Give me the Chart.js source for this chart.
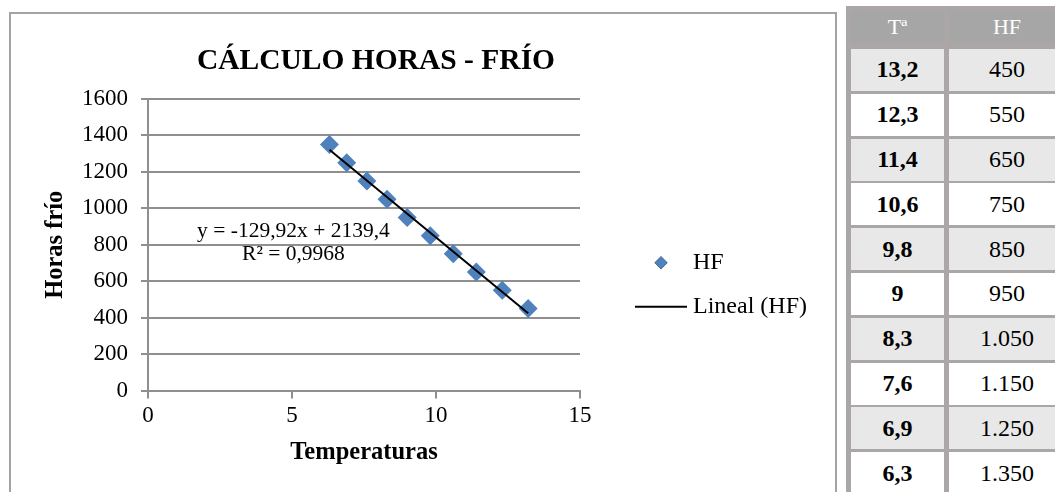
<!DOCTYPE html>
<html lang="es">
<head>
<meta charset="utf-8">
<title>Cálculo horas - frío</title>
<script src="https://cdn.jsdelivr.net/npm/chart.js@4.4.1/dist/chart.umd.min.js"></script>
<style>
  html, body { margin: 0; padding: 0; width: 1055px; height: 492px; overflow: hidden; background: #fff; }
  #frame { position: absolute; left: 9px; top: 12px; width: 824px; height: 600px;
           border: 2px solid #a3a3a3; border-bottom: none; }
  #chartBox { position: absolute; left: 0; top: 0; width: 840px; height: 492px; }
  #dataTable { position: absolute; left: 846px; top: 6px; width: 226px; height: 600px;
               background: #aba7a7; padding: 5px 0 0 5px; box-sizing: border-box;
               display: grid; grid-template-columns: 93px 116px; column-gap: 5px;
               row-gap: 2.8px; grid-template-rows: auto; grid-auto-rows: 42px;
               align-content: start;
               font-family: "Liberation Serif", "Times New Roman", serif; color: #000; }
  #dataTable .cell { display: flex; align-items: center; justify-content: center; font-size: 24px; }
  #dataTable .head { height: 32px; margin-bottom: 3.2px; background: #a6a6a6; color: #fff; font-size: 22px; }
  #dataTable .t { font-weight: bold; }
  #dataTable .shade { background: #e8e8e8; }
  #dataTable .plain { background: #fff; }
</style>
</head>
<body>
<div id="frame"></div>
<div id="chartBox"><canvas id="chart" width="840" height="492"></canvas></div>
<div id="dataTable"></div>
<script>
// Temperaturas medias (ºC) y horas frío correspondientes
const temperatures = [13.2, 12.3, 11.4, 10.6, 9.8, 9, 8.3, 7.6, 6.9, 6.3];
const chillHours   = [450, 550, 650, 750, 850, 950, 1050, 1150, 1250, 1350];

// Recta de regresión lineal tal como la indica la etiqueta
const trendSlope = -129.92;
const trendIntercept = 2139.4;
const trendR2 = 0.9968;

const xTicks = [0, 5, 10, 15];
const yTicks = [0, 200, 400, 600, 800, 1000, 1200, 1400, 1600];

const tableHeaders = ['Tª', 'HF'];

const SERIF = '"Liberation Serif", "Times New Roman", serif';
const POINT_BLUE = '#4f81bd';
const GRID_GREY = '#8f8f8f';

// ---- tabla lateral ----
function fmtDecimal(v) { return String(v).replace('.', ','); }
function fmtThousands(v) { return String(v).replace(/\B(?=(\d{3})+(?!\d))/g, '.'); }

const table = document.getElementById('dataTable');
tableHeaders.forEach(h => {
  const c = document.createElement('div');
  c.className = 'cell head';
  c.textContent = h;
  table.appendChild(c);
});
temperatures.forEach((t, i) => {
  const rowClass = i % 2 === 0 ? 'shade' : 'plain';
  const a = document.createElement('div');
  a.className = 'cell t ' + rowClass;
  a.textContent = fmtDecimal(t);
  const b = document.createElement('div');
  b.className = 'cell ' + rowClass;
  b.textContent = fmtThousands(chillHours[i]);
  table.appendChild(a);
  table.appendChild(b);
});

// ---- gráfico ----
const points = temperatures.map((t, i) => ({ x: t, y: chillHours[i] }));
const tMin = Math.min(...temperatures);
const tMax = Math.max(...temperatures);
const trendPoints = [tMin, tMax].map(x => ({ x, y: trendSlope * x + trendIntercept }));

function fmtComma(v) { return String(v).replace('.', ','); }
const eqText = 'y = ' + fmtComma(trendSlope) + 'x + ' + fmtComma(trendIntercept);
const r2Text = 'R² = ' + fmtComma(trendR2);

// Etiqueta de la ecuación de la tendencia
const trendLabel = {
  id: 'trendLabel',
  afterDatasetsDraw(chart) {
    const { ctx, scales: { x, y } } = chart;
    ctx.save();
    ctx.fillStyle = '#000';
    ctx.font = '21.5px ' + SERIF;
    ctx.textAlign = 'center';
    ctx.textBaseline = 'middle';
    const cx = x.getPixelForValue(5.05);
    ctx.fillText(eqText, cx, y.getPixelForValue(871));
    ctx.fillText(r2Text, cx, y.getPixelForValue(745));
    ctx.restore();
  }
};

// Leyenda a la derecha del área de trazado
const sideLegend = {
  id: 'sideLegend',
  afterDraw(chart) {
    const { ctx, chartArea } = chart;
    const pts = chart.data.datasets[0];
    const fit = chart.data.datasets[1];
    const mid = (chartArea.top + chartArea.bottom) / 2;
    const textX = chartArea.right + 113;
    ctx.save();
    ctx.font = '24px ' + SERIF;
    ctx.fillStyle = '#000';
    ctx.textAlign = 'left';
    ctx.textBaseline = 'middle';

    const y1 = mid + 18;
    Chart.helpers.drawPoint(ctx, {
      pointStyle: pts.pointStyle, radius: 6.5, borderWidth: 0
    }, chartArea.right + 81, y1);
    ctx.fillStyle = pts.backgroundColor;
    ctx.fill();
    ctx.fillStyle = '#000';
    ctx.fillText(pts.label, textX, y1);

    const y2 = mid + 62;
    ctx.beginPath();
    ctx.strokeStyle = fit.borderColor;
    ctx.lineWidth = fit.borderWidth;
    ctx.moveTo(chartArea.right + 55, y2);
    ctx.lineTo(chartArea.right + 107, y2);
    ctx.stroke();
    ctx.fillText(fit.label, textX, y2);
    ctx.restore();
  }
};

Chart.defaults.font.family = SERIF;
Chart.defaults.color = '#000';

new Chart(document.getElementById('chart'), {
  type: 'scatter',
  data: {
    datasets: [
      {
        label: 'HF',
        data: points,
        pointStyle: 'rectRot',
        pointRadius: 9.5,
        pointHoverRadius: 9.5,
        pointBorderWidth: 0,
        backgroundColor: POINT_BLUE,
        borderColor: POINT_BLUE,
        order: 1
      },
      {
        label: 'Lineal (HF)',
        type: 'line',
        data: trendPoints,
        borderColor: '#000',
        borderWidth: 2,
        pointRadius: 0,
        fill: false,
        order: 0
      }
    ]
  },
  options: {
    responsive: false,
    animation: false,
    devicePixelRatio: 1,
    layout: { padding: { left: 0, right: 88, top: 0, bottom: 0 } },
    plugins: {
      legend: { display: false },
      tooltip: { enabled: false },
      title: {
        display: true,
        text: 'CÁLCULO HORAS - FRÍO',
        color: '#000',
        font: { size: 29.5, weight: 'bold', family: SERIF },
        padding: { top: 43.3, bottom: 20.3 }
      }
    },
    scales: {
      x: {
        type: 'linear',
        min: 0, max: 15,
        afterBuildTicks: s => { s.ticks = xTicks.map(v => ({ value: v })); },
        afterFit: s => { s.height = 101.5; },
        ticks: { font: { size: 23 }, color: '#000', padding: 4, callback: v => String(v) },
        grid: { drawOnChartArea: false, drawTicks: true, tickLength: 8, color: GRID_GREY, lineWidth: 2 },
        border: { display: true, color: GRID_GREY, width: 2 },
        title: {
          display: true, text: 'Temperaturas', color: '#000',
          font: { size: 24.5, weight: 'bold', family: SERIF },
          padding: { top: 0, bottom: 24.4 }
        }
      },
      y: {
        type: 'linear',
        position: 'left',
        min: 0, max: 1600,
        afterBuildTicks: s => { s.ticks = yTicks.map(v => ({ value: v })); },
        afterFit: s => { s.width = 148; },
        ticks: { font: { size: 23 }, color: '#000', padding: 13, callback: v => String(v) },
        grid: { color: GRID_GREY, lineWidth: 2, tickLength: 7 },
        border: { display: true, color: GRID_GREY, width: 2 },
        title: {
          display: true, text: 'Horas frío', color: '#000',
          font: { size: 24.5, weight: 'bold', family: SERIF },
          padding: { top: 41.3, bottom: 0 }
        }
      },
      legendSpace: {
        type: 'linear',
        position: 'right',
        display: true,
        min: 0, max: 1,
        afterFit: s => { s.width = 172; },
        ticks: { display: false },
        grid: { display: false, drawTicks: false },
        border: { display: false }
      }
    }
  },
  plugins: [trendLabel, sideLegend]
});
</script>
</body>
</html>
